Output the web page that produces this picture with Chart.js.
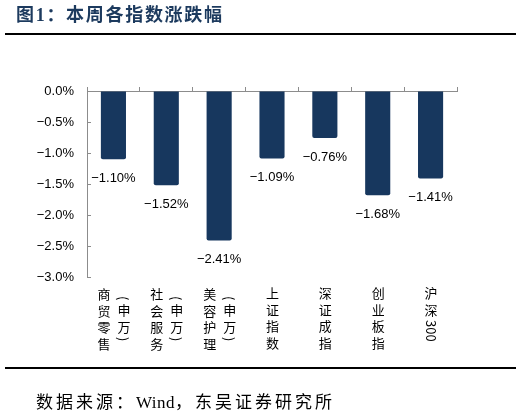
<!DOCTYPE html>
<html>
<head>
<meta charset="utf-8">
<script src="https://cdn.jsdelivr.net/npm/chart.js@4.4.1/dist/chart.umd.min.js"></script>
<style>
  html, body { margin: 0; padding: 0; background: #fff; }
  #wrap { position: relative; width: 521px; height: 416px; overflow: hidden; }
  #wrap canvas { position: absolute; left: 0; top: 0; }
  .title { position: absolute; left: 16px; top: 5px; font: bold 18px "Liberation Serif", "Noto Sans CJK SC", serif; line-height: 20px; letter-spacing: 1.7px; color: #1c3a5e; white-space: nowrap; }
  .rule { position: absolute; left: 5px; width: 511px; height: 2px; background: #000; }
  .source { position: absolute; left: 36px; top: 393px; font: 17px "Liberation Serif", "Noto Sans CJK SC", serif; line-height: 20px; letter-spacing: 3px; color: #000; white-space: nowrap; }
  .source .en { letter-spacing: 0.5px; }
  .xlab { position: absolute; writing-mode: vertical-lr; text-orientation: mixed; max-height: 67px; font: 13px "Noto Sans CJK SC", sans-serif; line-height: 20px; letter-spacing: 3.5px; text-align: center; color: #000; }
  .xlab .num { letter-spacing: 0; }
</style>
</head>
<body>
<div id="wrap">
  <canvas id="chg"></canvas>
  <div class="title">图1：本周各指数涨跌幅</div>
  <div class="rule" style="top:33px"></div>
  <div class="rule" style="top:367px"></div>
  <div class="source">数据来源：<span class="en">Wind</span>，东吴证券研究所</div>
</div>
<script>
// weekly change by index, %
const categories = ['商贸零售(申万)', '社会服务(申万)', '美容护理(申万)', '上证指数', '深证成指', '创业板指', '沪深300'];
const changes = [-1.10, -1.52, -2.41, -1.09, -0.76, -1.68, -1.41];
const yTicks = [0, -0.5, -1.0, -1.5, -2.0, -2.5, -3.0];

const barColor = '#17375E';
const axisColor = '#8c8c8c';
const numFont = { family: '"Liberation Sans", Arial, sans-serif', size: 13 };

// minus sign like the original, e.g. −1.10%
const pct = (v, d) => (v < 0 ? '\u2212' : '') + Math.abs(v).toFixed(d) + '%';

// value under each bar end
const valueLabels = {
  id: 'valueLabels',
  afterDatasetsDraw(chart){
    const ctx = chart.ctx;
    const meta = chart.getDatasetMeta(0);
    ctx.save();
    ctx.font = `${numFont.size}px ${numFont.family}`;
    ctx.fillStyle = '#000';
    ctx.textAlign = 'center';
    ctx.textBaseline = 'middle';
    meta.data.forEach((bar, i)=> ctx.fillText(pct(changes[i], 2), bar.x, bar.y + 19));
    ctx.restore();
  }
};

const chart = new Chart(document.getElementById('chg'), {
  type: 'bar',
  data: {
    labels: categories,
    datasets: [{ data: changes, backgroundColor: barColor, borderRadius: 2, barPercentage: 0.475, categoryPercentage: 1 }]
  },
  options: {
    responsive: true,
    maintainAspectRatio: false,
    animation: false,
    layout: { padding: { top: 87, left: 0, right: 64, bottom: 139 } },
    plugins: { legend: { display: false }, tooltip: { enabled: false } },
    scales: {
      x: { display: false },
      // axis line sits at 0%, the top of the plot, ticks between categories
      xTop: {
        type: 'category', position: 'top',
        grid: { offset: true, drawOnChartArea: false, tickLength: 4, color: axisColor },
        border: { color: axisColor },
        ticks: { display: false },
        afterFit: s => { s.height = 4; }
      },
      y: {
        min: -3, max: 0,
        afterBuildTicks: s => { s.ticks = yTicks.map(v => ({ value: v })); },
        afterFit: s => { s.width = 87; },
        grid: { drawOnChartArea: false, tickLength: -4, color: axisColor },
        border: { color: axisColor },
        ticks: { callback: v => pct(v, 1), padding: 17, color: '#000', font: numFont }
      }
    }
  },
  plugins: [valueLabels]
});

// vertical category names under the plot, placed from the x scale
function placeCategoryLabels(){
  const wrap = document.getElementById('wrap');
  const xs = chart.scales.x;
  categories.forEach((c, i)=>{
    const el = document.createElement('div');
    el.className = 'xlab';
    el.innerHTML = c.replace(/(\d+)/g, '<span class="num">$1</span>');
    wrap.appendChild(el);
    el.style.left = (xs.getPixelForValue(i) - el.offsetWidth / 2) + 'px';
    el.style.top = '287px';
  });
}
placeCategoryLabels();
</script>
</body>
</html>
